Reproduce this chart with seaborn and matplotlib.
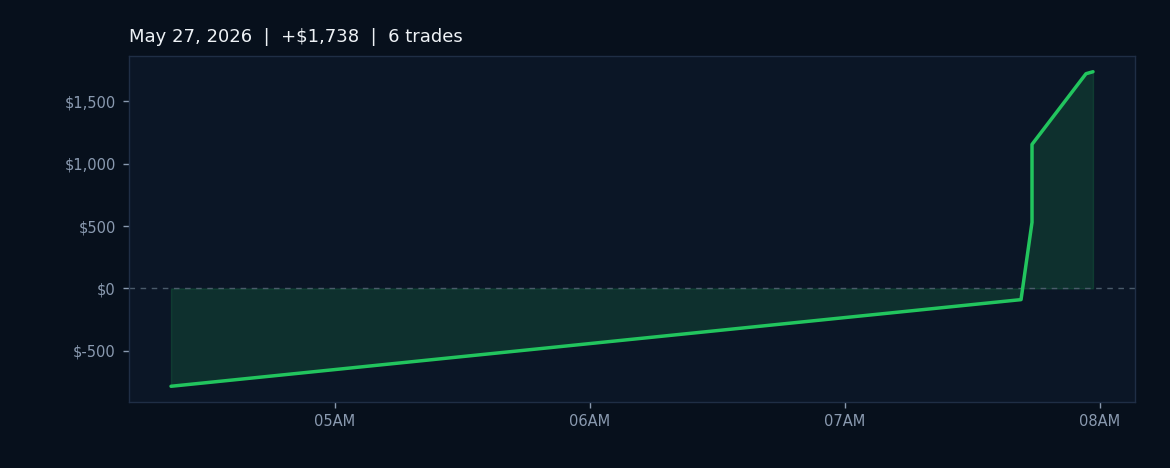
import matplotlib
matplotlib.use("Agg")
import matplotlib.pyplot as plt
import matplotlib.dates as mdates
import matplotlib.ticker as mticker
import seaborn as sns
import pandas as pd

# Data
trade_times = ["2026-05-27 04:21:25", "2026-05-27 07:41:25", "2026-05-27 07:44:00",
               "2026-05-27 07:44:00", "2026-05-27 07:56:42", "2026-05-27 07:58:21"]
cum_pnl = [-785, -90, 530, 1155, 1722, 1738]
x_range = ["2026-05-27 04:11:32", "2026-05-27 08:08:14"]
title_text = "May 27, 2026  |  +$1,738  |  6 trades"

df = pd.DataFrame({"time": pd.to_datetime(trade_times), "pnl": cum_pnl})

FIG_BG = "#07101c"
AX_BG = "#0b1626"
LINE = "#22c55e"
TICK = "#8a9ab0"
SPINE = "#1f2e45"

sns.set_theme(style="dark")
fig = plt.figure(figsize=(11.7, 4.68), dpi=100, facecolor=FIG_BG)
ax = fig.add_axes([129/1170, 1 - 402/468, (1135-129)/1170, (402-56)/468])
ax.set_facecolor(AX_BG)

ax.fill_between(df["time"], df["pnl"], 0, color=LINE, alpha=0.15, linewidth=1)
sns.lineplot(data=df, x="time", y="pnl", ax=ax, color=LINE, linewidth=2.5,
             estimator=None, sort=False)
ax.axhline(0, color="#4a5a6a", linestyle=(0, (4, 4)), linewidth=1, zorder=1)

ax.xaxis.set_major_locator(mdates.HourLocator())
ax.xaxis.set_major_formatter(mdates.DateFormatter("%I%p"))
ax.yaxis.set_major_locator(mticker.MultipleLocator(500))
ax.yaxis.set_major_formatter(mticker.FuncFormatter(lambda v, p: f"${v:,.0f}"))
ax.margins(y=0.05)
ax.set_xlim(pd.to_datetime(x_range[0]), pd.to_datetime(x_range[1]))

ax.set_xlabel("")
ax.set_ylabel("")
ax.grid(False)
for s in ax.spines.values():
    s.set_visible(True)
    s.set_color(SPINE)
    s.set_linewidth(1)
ax.tick_params(axis="both", colors=TICK, labelcolor=TICK, labelsize=10.5,
               length=4, width=1, bottom=True, left=True)
ax.tick_params(axis="x", pad=5)
ax.tick_params(axis="y", pad=5.5)

ax.set_title(title_text, loc="left", color="#eef2f6", fontsize=13, pad=10)

fig.savefig("out.png", dpi=100, facecolor=FIG_BG)
